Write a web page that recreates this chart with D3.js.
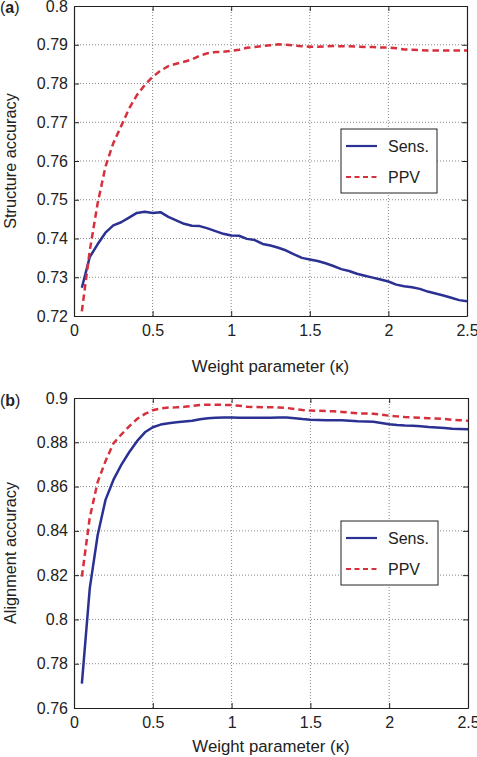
<!DOCTYPE html>
<html><head><meta charset="utf-8">
<script src="https://cdn.jsdelivr.net/npm/d3@7"></script>
<style>body{margin:0;background:#fff}svg{display:block}text{font-family:"Liberation Sans",Arial,sans-serif;fill:#222}</style>
</head><body><svg id="c" width="477" height="757"></svg>
<script>
const kappa = [0.05,0.1,0.15,0.2,0.25,0.3,0.35,0.4,0.45,0.5,0.55,0.6,0.65,0.7,0.75,0.8,0.85,0.9,0.95,1.0,1.05,1.1,1.15,1.2,1.25,1.3,1.35,1.4,1.45,1.5,1.55,1.6,1.65,1.7,1.75,1.8,1.85,1.9,1.95,2.0,2.05,2.1,2.15,2.2,2.25,2.3,2.35,2.4,2.45,2.5];
const structSens = [0.7273,0.7352,0.7385,0.7415,0.7434,0.7442,0.7454,0.7466,0.7469,0.7466,0.7468,0.7456,0.7447,0.7438,0.7433,0.7432,0.7426,0.7419,0.7412,0.7408,0.7407,0.7399,0.7396,0.7386,0.7382,0.7376,0.7369,0.7359,0.7350,0.7346,0.7342,0.7336,0.7329,0.7321,0.7316,0.7309,0.7304,0.7299,0.7294,0.7289,0.7281,0.7277,0.7274,0.7270,0.7263,0.7258,0.7253,0.7247,0.7241,0.7238];
const structPPV = [0.7212,0.7368,0.7490,0.7585,0.7646,0.7690,0.7735,0.7770,0.7796,0.7817,0.7833,0.7845,0.7851,0.7856,0.7862,0.7872,0.7878,0.7881,0.7882,0.7884,0.7887,0.7892,0.7894,0.7897,0.7899,0.7901,0.7900,0.7898,0.7896,0.7895,0.7895,0.7896,0.7897,0.7896,0.7896,0.7895,0.7894,0.7894,0.7893,0.7893,0.7891,0.7888,0.7887,0.7886,0.7885,0.7885,0.7885,0.7885,0.7885,0.7885];
const alignSens = [0.771,0.814,0.838,0.854,0.863,0.8698,0.8755,0.8805,0.8845,0.8868,0.8880,0.8886,0.8890,0.8894,0.8897,0.8904,0.8909,0.8911,0.8912,0.8912,0.8911,0.8911,0.8911,0.8911,0.8911,0.8912,0.8912,0.8909,0.8905,0.8902,0.8901,0.8900,0.8900,0.8899,0.8897,0.8895,0.8894,0.8893,0.8887,0.8881,0.8878,0.8876,0.8875,0.8872,0.8869,0.8867,0.8865,0.8861,0.8860,0.8859];
const alignPPV = [0.8193,0.846,0.862,0.8715,0.8795,0.8835,0.8872,0.8905,0.8928,0.8945,0.8953,0.8957,0.8958,0.8960,0.8964,0.8968,0.8970,0.8970,0.8969,0.8968,0.8965,0.8960,0.8959,0.8958,0.8958,0.8957,0.8955,0.8950,0.8946,0.8943,0.8942,0.8941,0.8940,0.8937,0.8934,0.8931,0.8930,0.8929,0.8925,0.8920,0.8917,0.8914,0.8912,0.8911,0.8909,0.8907,0.8905,0.8902,0.8900,0.8897];
const xTicks = [0,0.5,1,1.5,2,2.5];
const xTickLabels = ["0","0.5","1","1.5","2","2.5"];
const yTicksA = [0.72,0.73,0.74,0.75,0.76,0.77,0.78,0.79,0.8];
const yTickLabelsA = ["0.72","0.73","0.74","0.75","0.76","0.77","0.78","0.79","0.8"];
const yTicksB = [0.76,0.78,0.8,0.82,0.84,0.86,0.88,0.9];
const yTickLabelsB = ["0.76","0.78","0.8","0.82","0.84","0.86","0.88","0.9"];
const seriesNames = ["Sens.","PPV"];
const xTitle = "Weight parameter (\u03BA)";

const svg = d3.select("#c");
const BLUE = "#2a3192", RED = "#d6303c";

function panel(o){
  const g = svg.append("g");
  const x = d3.scaleLinear().domain([0,2.5]).range([o.left,o.right]);
  const y = d3.scaleLinear().domain(o.ydom).range([o.bottom,o.top]);
  g.append("g").selectAll("line").data(xTicks.slice(1,-1)).join("line")
    .attr("x1",d=>x(d)).attr("x2",d=>x(d)).attr("y1",o.top).attr("y2",o.bottom)
    .attr("stroke","#888").attr("stroke-width",1).attr("stroke-dasharray","1,2");
  g.append("g").selectAll("line").data(o.yticks.slice(1,-1)).join("line")
    .attr("x1",o.left).attr("x2",o.right).attr("y1",d=>y(d)).attr("y2",d=>y(d))
    .attr("stroke","#888").attr("stroke-width",1).attr("stroke-dasharray","1,2");
  const ax = g.append("g").attr("transform",`translate(0,${o.bottom})`)
    .call(d3.axisBottom(x).tickValues(xTicks).tickFormat((d,i)=>xTickLabels[i]).tickSizeInner(-5).tickSizeOuter(0).tickPadding(9));
  const ay = g.append("g").attr("transform",`translate(${o.left},0)`)
    .call(d3.axisLeft(y).tickValues(o.yticks).tickFormat((d,i)=>o.ylabels[i]).tickSizeInner(-5).tickSizeOuter(0).tickPadding(6));
  const at = g.append("g").attr("transform",`translate(0,${o.top})`)
    .call(d3.axisTop(x).tickValues(xTicks).tickFormat("").tickSizeInner(-5).tickSizeOuter(0));
  const ar = g.append("g").attr("transform",`translate(${o.right},0)`)
    .call(d3.axisRight(y).tickValues(o.yticks).tickFormat("").tickSizeInner(-5).tickSizeOuter(0));
  [ax,ay,at,ar].forEach(a=>{
    a.selectAll("path").attr("stroke","#222").attr("stroke-width",1.2);
    a.selectAll("line").attr("stroke","#222");
    a.selectAll("text").attr("font-size",16).attr("fill","#222").attr("font-family","Liberation Sans, Arial, sans-serif");
  });
  ax.selectAll("text").attr("dy","0.71em");
  const line = d3.line().x((d,i)=>x(kappa[i])).y(d=>y(d));
  g.append("path").datum(o.sens).attr("d",line).attr("fill","none").attr("stroke",BLUE).attr("stroke-width",2.5).attr("stroke-linejoin","round");
  g.append("path").datum(o.ppv).attr("d",line).attr("fill","none").attr("stroke",RED).attr("stroke-width",2.5).attr("stroke-dasharray","6.5,4");
  g.append("text").attr("x",(o.left+o.right)/2).attr("y",o.xlabY).attr("text-anchor","middle").attr("font-size",16.8).text(xTitle);
  g.append("text").attr("transform",`translate(${o.ylabX},${(o.top+o.bottom)/2}) rotate(-90)`).attr("text-anchor","middle").attr("dy","0.35em").attr("font-size",16.3).text(o.ytitle);
  const t = g.append("text").attr("x",0).attr("y",o.tagY).attr("font-size",16);
  t.append("tspan").text("(");
  t.append("tspan").attr("font-weight","bold").text(o.tag);
  t.append("tspan").text(")");
  const L = o.legend;
  g.append("rect").attr("x",L.x).attr("y",L.y).attr("width",L.w).attr("height",L.h).attr("fill","#fff").attr("stroke","#222").attr("stroke-width",1);
  const rows = [{c:BLUE,dash:null},{c:RED,dash:"5,3.5"}];
  rows.forEach((r,i)=>{
    const yy = L.y + 17 + i*31;
    g.append("line").attr("x1",L.x+5).attr("x2",L.x+36).attr("y1",yy).attr("y2",yy)
      .attr("stroke",r.c).attr("stroke-width",2.2).attr("stroke-dasharray",r.dash);
    g.append("text").attr("x",L.x+47).attr("y",yy).attr("dy","0.35em").attr("font-size",16).text(seriesNames[i]);
  });
}

panel({left:74,right:467,top:6,bottom:316,ydom:[0.72,0.8],yticks:yTicksA,ylabels:yTickLabelsA,
  sens:structSens,ppv:structPPV,xlabY:372,ylabX:10,ytitle:"Structure accuracy",tag:"a",tagY:13,
  legend:{x:341,y:129,w:96,h:64}});
panel({left:74,right:468,top:398,bottom:708,ydom:[0.76,0.9],yticks:yTicksB,ylabels:yTickLabelsB,
  sens:alignSens,ppv:alignPPV,xlabY:752,ylabX:10,ytitle:"Alignment accuracy",tag:"b",tagY:406,
  legend:{x:341,y:521,w:97,h:64}});
</script></body></html>
